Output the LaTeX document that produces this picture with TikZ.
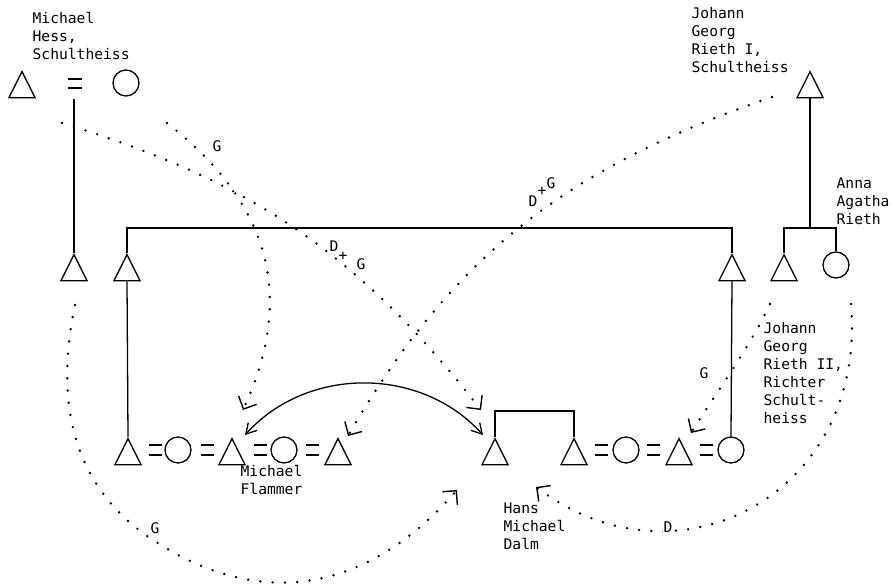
\documentclass[tikz,border=0pt]{standalone}
\usepackage{fontspec}
\setmonofont{DejaVu Sans Mono}
\usepackage{tikz}
\usetikzlibrary{arrows.meta, shapes.geometric, calc}

\begin{document}
\begin{tikzpicture}[x=0.3mm, y=0.3mm, line width=1.1pt,
    every node/.style={font=\ttfamily\fontsize{12.5}{15.4}\selectfont},
    male/.style={draw, isosceles triangle, isosceles triangle stretches, shape border rotate=90, minimum width=7.8mm, minimum height=7.8mm, inner sep=0, anchor=apex},
    female/.style={draw, circle, minimum size=7.8mm, inner sep=0},
    who/.style={align=left, anchor=north west, inner sep=0},
    lbl/.style={fill=white, inner sep=0.6pt},
    bond/.style={line width=1.6pt},
    kin/.style={line width=2.3pt, line cap=round, dash pattern=on 0pt off 10.5pt, -{Straight Barb[angle=90:12pt, line width=1.2pt]}},
    twoway/.style={{Straight Barb[angle=60:10pt]}-{Straight Barb[angle=60:10pt]}}]
  \path[use as bounding box, fill=white] (0,0) rectangle (893,584);

  % Hess couple and son
  \node[male] (hs) at (22,514) {};
  \node[female] (hw) at (126,501) {};
  \draw[bond] (68,505) -- (82,505) (68,496) -- (82,496);
  \node[who] (hsname) at (32,572) {Michael\\Hess,\\Schultheiss};
  \node[male] (hsn) at (74,331) {};
  \coordinate (hm) at (74,485);
  \draw (hm) -- (hsn.apex);

  % brothers under the long bar
  \node[male] (bl) at (127,331) {};
  \node[male] (br) at (732,331) {};
  \draw (bl.apex) -- ++(0,25) -| (br.apex);

  % Rieth I and his children
  \node[male] (r1) at (810,514) {};
  \node[who] (r1name) at (691,577) {Johann\\Georg\\Rieth I,\\Schultheiss};
  \node[male] (rs) at (784,331) {};
  \node[female] (aa) at (836,319) {};
  \node[who] (aaname) at (836,407) {Anna\\Agatha\\Rieth};
  \draw (rs.apex) -- ++(0,25) coordinate (sb) -| (aa.north);
  \draw (r1.lower side) -- (r1.lower side |- sb);

  % lower row, left
  \node[male] (lt1) at (128,147) {};
  \node[female] (lc1) at (178,134) {};
  \node[male] (fl) at (232,147) {};
  \node[female] (lc2) at (284,134) {};
  \node[male] (lt3) at (338,147) {};
  \node[who] (flname) at (240,119) {Michael\\Flammer};
  \draw[bond] (149,139) -- (162,139) (149,129) -- (162,129);
  \draw[bond] (201,139) -- (214,139) (201,129) -- (214,129);
  \draw[bond] (254,139) -- (267,139) (254,129) -- (267,129);
  \draw[bond] (306,139) -- (319,139) (306,129) -- (319,129);
  \draw (bl.lower side) -- (lt1.apex);

  % lower row, right
  \node[male] (hd) at (495,147) {};
  \node[male] (rt1) at (574,147) {};
  \node[female] (rc1) at (626,134) {};
  \node[male] (rt2) at (679,147) {};
  \node[female] (rc2) at (731,134) {};
  \node[who] (hdname) at (503,82) {Hans\\Michael\\Dalm};
  \node[who] (r2name) at (763,262) {Johann\\Georg\\Rieth II,\\Richter\\Schult-\\heiss};
  \draw[bond] (595,139) -- (608,139) (595,129) -- (608,129);
  \draw[bond] (647,139) -- (660,139) (647,129) -- (660,129);
  \draw[bond] (700,139) -- (713,139) (700,129) -- (713,129);
  \draw (hd.apex) -- ++(0,26) -| (rt1.apex);
  \draw (br.lower side) -- (rc2.north);

  \draw[twoway] ([shift={(13,2)}]fl.apex) to[bend left=48] ([shift={(-12,2)}]hd.apex);

  % dotted links
  \coordinate (a0) at (62,461);  \coordinate (a1) at (481,174);
  \coordinate (b0) at (167,461); \coordinate (b1) at (243,174);
  \coordinate (c0) at (772,487); \coordinate (c1) at (348,148);
  \coordinate (d0) at (75,279);  \coordinate (dm) at (150,46); \coordinate (d1) at (457,94);
  \coordinate (e0) at (770,280); \coordinate (e1) at (691,151);
  \coordinate (f0) at (851,280); \coordinate (f1) at (536,97);
  \draw[kin] (a0) to[out=-17, in=128] (a1);
  \draw[kin] (b0) to[out=-38, in=65, out looseness=0.86, in looseness=1.3] (b1);
  \draw[kin] (c0) to[out=199, in=60] (c1);
  \draw[kin] (d0) to[out=258, in=146] (dm) to[out=-34, in=229, looseness=1.1] (d1);
  \draw[kin] (e0) to[out=245, in=58, looseness=0.8] (e1);
  \draw[kin] (f0) to[out=-85, in=-37, out looseness=1.33, in looseness=1.26] (f1);

  \node[lbl] (ga) at (217,438) {G};
  \node[lbl] (da) at (334,338) {D};
  \node[lbl] (pa) at (343,328) {+};
  \node[lbl] (gb) at (361,320) {G};
  \node[lbl] (dc) at (533,383) {D};
  \node[lbl] (pc) at (542,393) {+};
  \node[lbl] (gc) at (551,401) {G};
  \node[lbl] (gd) at (155,56) {G};
  \node[lbl] (ge) at (704,211) {G};
  \node[lbl] (df) at (668,57) {D};
\end{tikzpicture}
\end{document}
